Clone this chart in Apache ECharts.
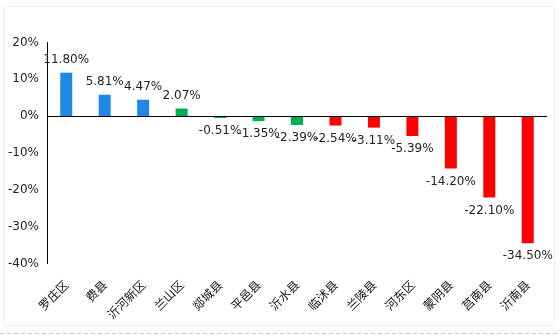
<!DOCTYPE html>
<html><head><meta charset="utf-8">
<script src="https://cdn.jsdelivr.net/npm/echarts@6/dist/echarts.min.js"></script>
<style>html,body{margin:0;padding:0;background:#fff}#c{width:560px;height:336px}</style>
</head><body><div id="c"></div>
<script>
const categories = ['罗庄区','费县','沂河新区','兰山区','郯城县','平邑县','沂水县','临沭县','兰陵县','河东区','蒙阴县','莒南县','沂南县'];
const values = [11.80, 5.81, 4.47, 2.07, -0.51, -1.35, -2.39, -2.54, -3.11, -5.39, -14.20, -22.10, -34.50];
const barColors = ['#1E88E5','#1E88E5','#1E88E5','#00B050','#00B050','#00B050','#00B050','#FF0000','#FF0000','#FF0000','#FF0000','#FF0000','#FF0000'];
const yTicks = {min: -40, max: 20, interval: 10};

const chart = echarts.init(document.getElementById('c'), null, {renderer: 'canvas'});
const font = '"DejaVu Sans", sans-serif';
chart.setOption({
  animation: false,
  backgroundColor: '#fff',
  graphic: [
    {type: 'rect', shape: {x: 3.5, y: 6.5, width: 551, height: 319}, style: {fill: 'none', stroke: '#f0f0f0', lineWidth: 1}, silent: true},
    {type: 'line', shape: {x1: 0, y1: 333.5, x2: 560, y2: 333.5}, style: {stroke: '#c8c8c8', lineWidth: 1, lineDash: [4, 3]}, silent: true}
  ],
  grid: {left: 47, right: 13, top: 42.5, bottom: 72.5, containLabel: false},
  xAxis: {
    type: 'category',
    data: categories,
    axisLine: {show: false},
    axisTick: {show: false},
    axisLabel: {rotate: 45, interval: 0, fontSize: 12, color: '#111', margin: 19, fontFamily: '"Noto Sans CJK SC", sans-serif'}
  },
  yAxis: {
    type: 'value',
    min: yTicks.min, max: yTicks.max, interval: yTicks.interval,
    axisLine: {show: true, lineStyle: {color: '#000', width: 1}},
    axisTick: {show: false},
    splitLine: {show: false},
    axisLabel: {formatter: '{value}%', fontSize: 12, color: '#222', fontFamily: font, margin: 8}
  },
  series: [{
    type: 'bar',
    barWidth: 12,
    data: values.map((v, i) => ({
      value: v,
      itemStyle: {color: barColors[i]},
      label: {position: v >= 0 ? 'top' : 'bottom'}
    })),
    label: {
      show: true, distance: 7, fontSize: 12, color: '#222', fontFamily: font,
      formatter: p => p.value.toFixed(2) + '%'
    },
    markLine: {
      silent: true, symbol: 'none', label: {show: false},
      lineStyle: {color: '#000', type: 'solid', width: 1},
      data: [{yAxis: 0}]
    }
  }]
});
</script></body></html>
